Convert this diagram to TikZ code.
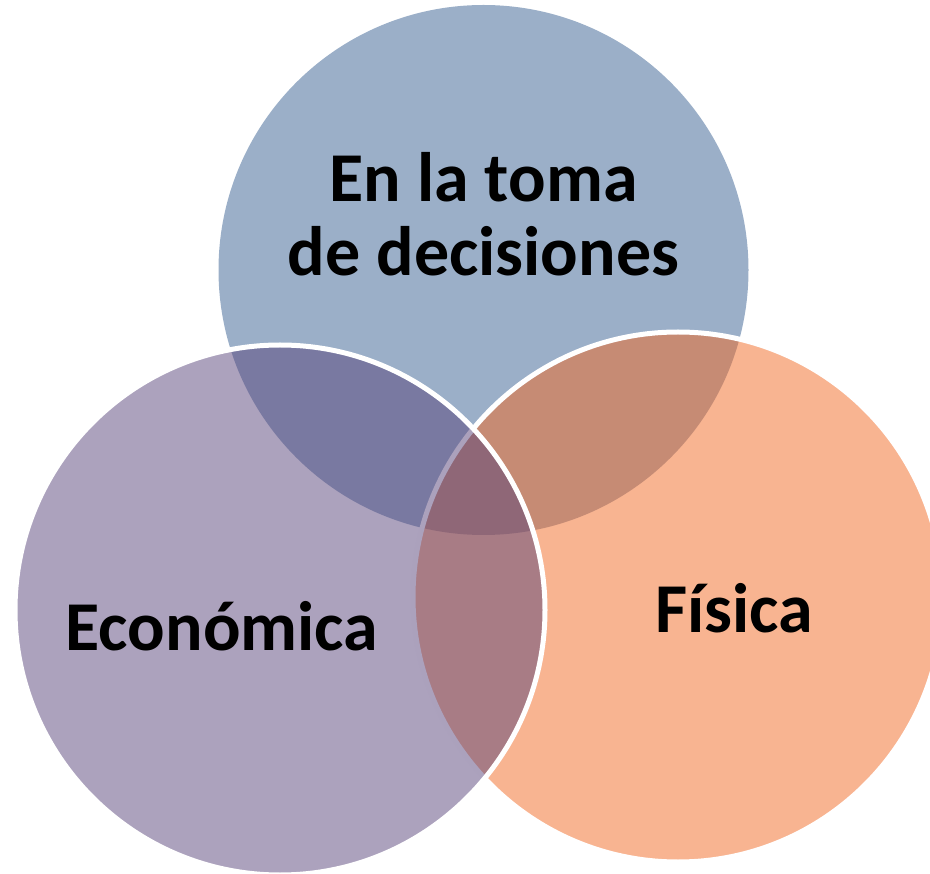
\documentclass[tikz,border=0pt]{standalone}
\usepackage{fontspec}
\setmainfont{Carlito}
\definecolor{ctop}{RGB}{55,95,145}
\definecolor{cright}{RGB}{241,105,35}
\definecolor{cleft}{RGB}{89,69,123}
\begin{document}
\begin{tikzpicture}[x=1pt,y=-1pt,
  venn/.style={circle, minimum size=530pt, inner sep=0pt, fill opacity=0.5},
  lbl/.style={font=\fontsize{70}{74}\selectfont\bfseries, text=black, align=center, anchor=base, inner sep=0pt}]
\useasboundingbox (0,0) rectangle (930,874);
\node[venn, fill=ctop] (top) at (483.5,270) {};
\node[venn, fill=cright, draw=white, draw opacity=1, line width=5pt] (right) at (678,597) {};
\node[venn, fill=cleft, draw=white, draw opacity=1, line width=5pt] (left) at (280,610) {};
\node[lbl] (ttop) at (483.5,276) {En la toma\\de decisiones};
\node[lbl] (tleft) at (222,650) {Económica};
\node[lbl] (tright) at (734,633) {Física};
\end{tikzpicture}
\end{document}
